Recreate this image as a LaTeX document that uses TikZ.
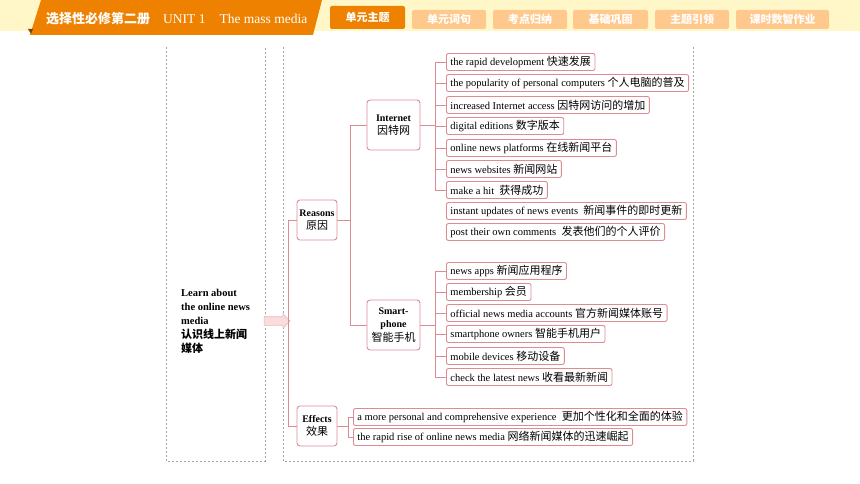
\documentclass[tikz,border=0pt]{standalone}
\usepackage{fontspec}
\setmainfont{Liberation Serif}
\newfontfamily\cnfont{Noto Sans CJK SC}
\usetikzlibrary{shapes.arrows}

\definecolor{bandyellow}{RGB}{255,247,200}
\definecolor{tabactive}{RGB}{238,130,0}
\definecolor{tabidle}{RGB}{255,200,140}
\definecolor{linkred}{RGB}{222,140,148}
\definecolor{arrowpink}{RGB}{251,220,220}
\definecolor{guidegray}{RGB}{165,165,165}

\newcommand{\zh}[1]{{\cnfont\mdseries\fontsize{11}{12}\selectfont #1}}

\tikzset{
    link/.style   = {draw=linkred, line width=0.9pt},
    item/.style   = {draw=linkred, line width=0.9pt, rounded corners=2pt, fill=white, anchor=west,
                     minimum height=17pt, inner xsep=4pt, inner ysep=1pt, font=\fontsize{10.5}{12}\selectfont},
    hub/.style    = {draw=linkred, line width=0.9pt, rounded corners=3pt, fill=white, align=center,
                     inner sep=1pt, font=\bfseries\fontsize{10}{13.5}\selectfont},
    tab/.style    = {rounded corners=2pt, text=white, inner sep=0pt, minimum height=19pt,
                     font=\cnfont\bfseries\fontsize{11}{12}\selectfont},
    guide/.style  = {guidegray, dash pattern=on 2pt off 2pt, line width=0.8pt},
}

\begin{document}
\begin{tikzpicture}[x=1pt, y=-1pt]
        \useasboundingbox (0,0) rectangle (860,484);

        %header
        \fill[bandyellow] (0,0) rectangle (860,31);
        \fill[tabactive] (41,0) -- (322,0) -- (313,35) -- (30,35) -- cycle;
        \fill[tabactive!55!black] (28,29) -- (33,29) -- (31,34) -- cycle;
        \node[anchor=west, text=white, inner sep=0pt, name=title] at (46,19)
            {{\cnfont\bfseries\fontsize{13}{14}\selectfont 选择性必修第二册}\hspace{13pt}{\fontsize{13.5}{14}\selectfont UNIT 1\hspace{14pt}The mass media}};

        %tabs
        \node[tab, fill=tabactive, minimum width=75pt, minimum height=23pt, name=tab1] at (367.5,17.5) {单元主题};
        \node[tab, fill=tabidle  , minimum width=74pt, name=tab2] at (449  ,19.5) {单元词句};
        \node[tab, fill=tabidle  , minimum width=74pt, name=tab3] at (530  ,19.5) {考点归纳};
        \node[tab, fill=tabidle  , minimum width=75pt, name=tab4] at (610.5,19.5) {基础巩固};
        \node[tab, fill=tabidle  , minimum width=74pt, name=tab5] at (692  ,19.5) {主题引领};
        \node[tab, fill=tabidle  , minimum width=93pt, name=tab6] at (782.5,19.5) {课时数智作业};

        %frames
        \draw[guide] (166,47) -- (166,461) -- (265,461) -- (265,47);
        \draw[guide] (283,47) -- (283,461) -- (693,461) -- (693,47);

        %goal
        \node[anchor=north west, align=left, inner sep=0pt, font=\bfseries\fontsize{10.5}{14}\selectfont, name=goal] at (181,289)
            {Learn about\\the online news\\media\\{\cnfont\fontsize{11}{14}\selectfont 认识线上新闻}\\{\cnfont\fontsize{11}{14}\selectfont 媒体}};
        \node[single arrow, draw=linkred!60, fill=arrowpink, line width=0.6pt, minimum height=26pt,
              inner xsep=2pt, inner ysep=4pt, single arrow head extend=3pt, name=arr] at (275,321) {};

        %hubs
        \node[hub, minimum width=40pt, minimum height=40pt, name=reasons ] at (317  ,220) {Reasons\\\zh{原因}};
        \node[hub, minimum width=40pt, minimum height=40pt, name=effects ] at (317  ,426) {Effects\\\zh{效果}};
        \node[hub, minimum width=53pt, minimum height=50pt, name=internet] at (393.5,125) {Internet\\\zh{因特网}};
        \node[hub, minimum width=53pt, minimum height=50pt, name=phone   ] at (393.5,325) {Smart-\\phone\\\zh{智能手机}};

        %internet items
        \node[item, name=net1] at (446, 62) {the rapid development \zh{快速发展}};
        \node[item, name=net2] at (446, 83) {the popularity of personal computers \zh{个人电脑的普及}};
        \node[item, name=net3] at (446,105) {increased Internet access \zh{因特网访问的增加}};
        \node[item, name=net4] at (446,126) {digital editions \zh{数字版本}};
        \node[item, name=net5] at (446,148) {online news platforms \zh{在线新闻平台}};
        \node[item, name=net6] at (446,169) {news websites \zh{新闻网站}};
        \node[item, name=net7] at (446,190) {make a hit \ \zh{获得成功}};
        \node[item, name=net8] at (446,211) {instant updates of news events \ \zh{新闻事件的即时更新}};
        \node[item, name=net9] at (446,232) {post their own comments \ \zh{发表他们的个人评价}};

        %phone items
        \node[item, name=ph1] at (446,271) {news apps \zh{新闻应用程序}};
        \node[item, name=ph2] at (446,292) {membership \zh{会员}};
        \node[item, name=ph3] at (446,313) {official news media accounts \zh{官方新闻媒体账号}};
        \node[item, name=ph4] at (446,334) {smartphone owners \zh{智能手机用户}};
        \node[item, name=ph5] at (446,356) {mobile devices \zh{移动设备}};
        \node[item, name=ph6] at (446,377) {check the latest news \zh{收看最新新闻}};

        %effect items
        \node[item, name=eff1] at (353,417) {a more personal and comprehensive experience \ \zh{更加个性化和全面的体验}};
        \node[item, name=eff2] at (353,437) {the rapid rise of online news media \zh{网络新闻媒体的迅速崛起}};

        %links
        \draw[link] (reasons.west) -- ++(-8,0) |- (effects.west);
        \draw[link] (reasons.east) -- ++(13,0) |- (internet.west);
        \draw[link] (reasons.east) -- ++(13,0) |- (phone.west);

        \draw[link] (internet.east) -- ++(15,0) |- (net1.west);
        \draw[link] (internet.east) -- ++(15,0) |- (net2.west);
        \draw[link] (internet.east) -- ++(15,0) |- (net3.west);
        \draw[link] (internet.east) -- ++(15,0) |- (net4.west);
        \draw[link] (internet.east) -- ++(15,0) |- (net5.west);
        \draw[link] (internet.east) -- ++(15,0) |- (net6.west);
        \draw[link] (internet.east) -- ++(15,0) |- (net7.west);

        \draw[link] (phone.east) -- ++(15,0) |- (ph1.west);
        \draw[link] (phone.east) -- ++(15,0) |- (ph2.west);
        \draw[link] (phone.east) -- ++(15,0) |- (ph3.west);
        \draw[link] (phone.east) -- ++(15,0) |- (ph4.west);
        \draw[link] (phone.east) -- ++(15,0) |- (ph5.west);
        \draw[link] (phone.east) -- ++(15,0) |- (ph6.west);

        \draw[link] (effects.east) -- ++(11,0) |- (eff1.west);
        \draw[link] (effects.east) -- ++(11,0) |- (eff2.west);
\end{tikzpicture}
\end{document}
